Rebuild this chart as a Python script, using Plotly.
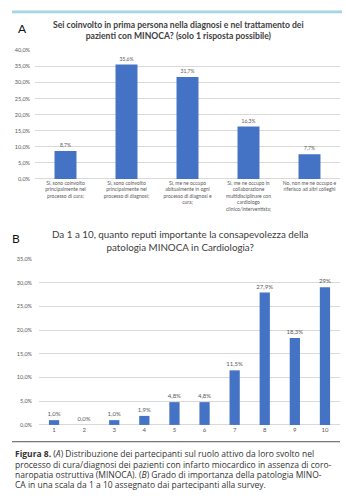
import plotly.graph_objects as go

W, H = 346, 503

# ---- data ----
a_categories = [
    "Sì, sono coinvolto<br>principalmente nel<br>processo di cura;",
    "Sì, sono coinvolto<br>principalmente nel<br>processo di diagnosi;",
    "Sì, me ne occupo<br>abitualmente in ogni<br>processo di diagnosi e<br>cura;",
    "Sì, me ne occupo in<br>collaborazione<br>multidisciplinare con<br>cardiologo<br>clinico/interventista;",
    "No, non me ne occupo e<br>riferisco ad altri colleghi",
]
a_values = [8.7, 35.6, 31.7, 16.3, 7.7]
a_labels = ["8,7%", "35,6%", "31,7%", "16,3%", "7,7%"]
a_ticks = [0, 5, 10, 15, 20, 25, 30, 35, 40]
a_ticktext = ["0,0%", "5,0%", "10,0%", "15,0%", "20,0%", "25,0%", "30,0%", "35,0%", "40,0%"]

b_categories = ["1", "2", "3", "4", "5", "6", "7", "8", "9", "10"]
b_values = [1.0, 0.0, 1.0, 1.9, 4.8, 4.8, 11.5, 27.9, 18.3, 29.0]
b_labels = ["1,0%", "0,0%", "1,0%", "1,9%", "4,8%", "4,8%", "11,5%", "27,9%", "18,3%", "29%"]
b_ticks = [0, 5, 10, 15, 20, 25, 30, 35]
b_ticktext = ["0,0%", "5,0%", "10,0%", "15,0%", "20,0%", "25,0%", "30,0%", "35,0%"]

title_a = ("<b>Sei coinvolto in prima persona nella diagnosi e nel trattamento dei</b><br>"
           "<b>pazienti con MINOCA? (solo 1 risposta possibile)</b>")
title_b = ("Da 1 a 10, quanto reputi importante la consapevolezza della<br>"
           "patologia MINOCA in Cardiologia?")
caption_lines = [
    "<b>Figura 8.</b> (<i>A</i>) Distribuzione dei partecipanti sul ruolo attivo da loro svolto nel",
    "processo di cura/diagnosi dei pazienti con infarto miocardico in assenza di coro-",
    "naropatia ostruttiva (MINOCA). (<i>B</i>) Grado di importanza della patologia MINO-",
    "CA in una scala da 1 a 10 assegnato dai partecipanti alla survey.",
]

BLUE = "#4472C4"
GRID = "#d9d9d9"
TXT = "#595959"
FONT = "Lato"


def px_x(x):
    return x / W


def px_y(y):
    return 1 - y / H


fig = go.Figure()

fig.add_trace(go.Bar(
    x=a_categories, y=a_values, text=a_labels, textposition="outside",
    textfont=dict(size=5, color=TXT, family=FONT),
    outsidetextfont=dict(size=5, color=TXT, family=FONT),
    constraintext="none", cliponaxis=False,
    marker_color=BLUE, marker_line_width=0, width=0.36, xaxis="x", yaxis="y", hoverinfo="skip",
))
fig.add_trace(go.Bar(
    x=b_categories, y=b_values, text=b_labels, textposition="outside",
    textfont=dict(size=6, color=TXT, family=FONT),
    outsidetextfont=dict(size=6, color=TXT, family=FONT),
    constraintext="none", cliponaxis=False,
    marker_color=BLUE, marker_line_width=0, width=0.34, xaxis="x2", yaxis="y2", hoverinfo="skip",
))

axis_common = dict(showline=False, ticks="", fixedrange=True)

fig.update_layout(
    width=W, height=H, margin=dict(l=0, r=0, t=0, b=0),
    paper_bgcolor="white", plot_bgcolor="white",
    showlegend=False, separators=",.",
    font=dict(family=FONT, color=TXT),
    xaxis=dict(domain=[px_x(35), px_x(340)], anchor="y", tickfont=dict(size=5, color=TXT),
               showgrid=False, tickangle=0, **axis_common),
    yaxis=dict(domain=[px_y(178), px_y(48)], anchor="x", range=[0, 40],
               tickvals=a_ticks, ticktext=a_ticktext,
               tickfont=dict(size=5.5, color=TXT), showgrid=True, gridcolor=GRID,
               gridwidth=0.8, zeroline=True, zerolinecolor=GRID, zerolinewidth=1,
               ticklabelstandoff=4, **axis_common),
    xaxis2=dict(domain=[px_x(39), px_x(340)], anchor="y2", tickfont=dict(size=6, color=TXT),
                showgrid=False, tickangle=0, **axis_common),
    yaxis2=dict(domain=[px_y(427), px_y(259)], anchor="x2", range=[0, 35],
                tickvals=b_ticks, ticktext=b_ticktext,
                tickfont=dict(size=5.5, color=TXT), showgrid=True, gridcolor=GRID,
                gridwidth=0.8, zeroline=True, zerolinecolor=GRID, zerolinewidth=1,
                ticklabelstandoff=6, **axis_common),
)

shapes = [
    dict(type="rect", xref="paper", yref="paper", x0=px_x(12), x1=px_x(342),
         y0=px_y(10.5), y1=px_y(7.5), fillcolor="#a4d4e8", line=dict(width=0)),
    dict(type="line", xref="paper", yref="paper", x0=px_x(12), x1=px_x(340),
         y0=px_y(444), y1=px_y(444), line=dict(color="#555555", width=1)),
]
fig.update_layout(shapes=shapes)

ann = [
    dict(text="A", x=px_x(22), y=px_y(26), font=dict(size=12, color="#111111", family=FONT),
         xanchor="center", yanchor="middle"),
    dict(text=title_a, x=px_x(178), y=px_y(28), font=dict(size=8.6, color="#404040", family=FONT),
         xanchor="center", yanchor="middle", align="center"),
    dict(text="B", x=px_x(16), y=px_y(238), font=dict(size=12, color="#111111", family=FONT),
         xanchor="center", yanchor="middle"),
    dict(text=title_b, x=px_x(180), y=px_y(240), font=dict(size=9.8, color="#404040", family=FONT),
         xanchor="center", yanchor="middle", align="center"),
]
for i, line in enumerate(caption_lines):
    ann.append(dict(text=line, x=px_x(12.5), y=px_y(456 + i * 10.6), xanchor="left", yanchor="middle",
                    align="left", font=dict(size=8.5, color="#333333", family="Open Sans")))
for a in ann:
    a.update(xref="paper", yref="paper", showarrow=False)
fig.update_layout(annotations=ann)

fig.write_html("out.html")
